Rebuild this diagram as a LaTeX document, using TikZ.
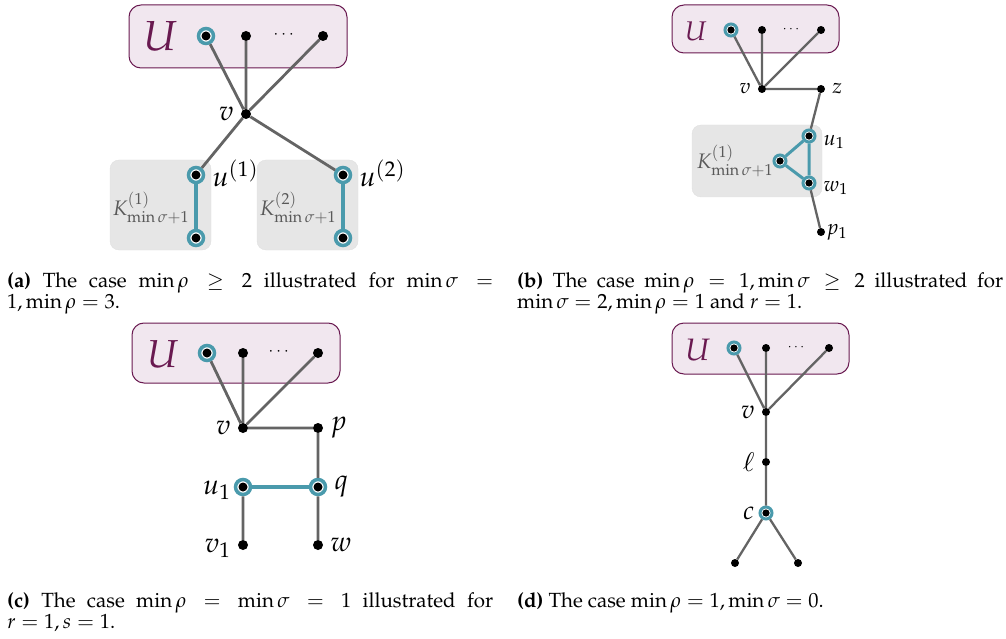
\documentclass[tikz,border=0pt]{standalone}
\usepackage[T1]{fontenc}
\usepackage{amsmath}
\usepackage{mathpazo}
\usepackage{xcolor}
\usepackage{tikz}
\usetikzlibrary{positioning}

\definecolor{ringteal}{RGB}{74,154,172}
\definecolor{setpurple}{RGB}{105,25,80}
\definecolor{setfill}{RGB}{241,231,239}
\definecolor{cliquegray}{RGB}{230,230,230}
\definecolor{edgegray}{RGB}{100,100,100}

\tikzset{
  vdot/.style={circle, fill=black, inner sep=0pt, minimum size=10pt},
  ring/.style={circle, draw=ringteal, line width=3.5pt, fill=white, inner sep=0pt, minimum size=15pt,
    path picture={\fill[black] (path picture bounding box.center) circle (4.5pt);}},
  svdot/.style={circle, fill=black, inner sep=0pt, minimum size=8pt},
  sring/.style={circle, draw=ringteal, line width=3pt, fill=white, inner sep=0pt, minimum size=12pt,
    path picture={\fill[black] (path picture bounding box.center) circle (3.6pt);}},
  gedge/.style={draw=edgegray, line width=2.8pt},
  tedge/.style={draw=ringteal, line width=3.8pt},
  sgedge/.style={draw=edgegray, line width=2.3pt},
  stedge/.style={draw=ringteal, line width=3pt},
  setbox/.style={draw=setpurple, fill=setfill, line width=1pt, rounded corners=12pt},
  cliquebox/.style={fill=cliquegray, draw=black!12, rounded corners=9pt},
  setname/.style={text=setpurple, inner sep=0pt},
  lbl/.style={font=\fontsize{28}{28}\selectfont, inner sep=1pt},
  slbl/.style={font=\fontsize{21}{21}\selectfont, inner sep=1pt},
  klbl/.style={text=black!65, font=\fontsize{21}{21}\selectfont, inner sep=0pt},
  capt/.style={text width=486pt, align=justify, inner sep=0pt, anchor=base west,
    font=\fontsize{20.5}{21}\selectfont}
}

\begin{document}
\begin{tikzpicture}[x=1pt, y=-1pt, label distance=6pt]
\useasboundingbox (0,0) rectangle (1006,639);

% (a) min rho >= 2
\draw[setbox] (129,5) rectangle (347,68);
\node[setname, font=\fontsize{42}{42}\selectfont] (Ua) at (161,36) {$U$};
\node[ring] (ua1) at (206,36) {};
\node[vdot] (ua2) at (246,36) {};
\node[font=\fontsize{16}{16}\selectfont] (uadots) at (285,35) {$\cdots$};
\node[vdot] (ua3) at (323,36) {};
\node[vdot, label={[lbl]left:$v$}] (va) at (246,114) {};
\draw[cliquebox] (110,160) rectangle (211,250);
\draw[cliquebox] (257,160) rectangle (358,250);
\node[ring, label={[lbl, yshift=2pt]right:$u^{(1)}$}] (ka1) at (196,175) {};
\node[ring] (kb1) at (196,238) {};
\node[ring, label={[lbl, yshift=2pt]right:$u^{(2)}$}] (ka2) at (343,175) {};
\node[ring] (kb2) at (343,238) {};
\node[klbl] (kname1) at (151,208) {$K^{(1)}_{\min\sigma+1}$};
\node[klbl] (kname2) at (298,208) {$K^{(2)}_{\min\sigma+1}$};
\draw[gedge] (va) -- (ua1) (va) -- (ua2) (va) -- (ua3) (va) -- (ka1) (va) -- (ka2);
\draw[tedge] (ka1) -- (kb1) (ka2) -- (kb2);
\node[capt] (capa) at (7,287)
  {\textbf{(a)} The case $\min\rho \geq 2$ illustrated for $\min\sigma = 1, \min\rho = 3$.};

% (b) min rho = 1, min sigma >= 2
\draw[setbox] (672,5) rectangle (839,53);
\node[setname, font=\fontsize{27}{27}\selectfont] (Ub) at (696,31) {$U$};
\node[sring] (ub1) at (731,30) {};
\node[svdot] (ub2) at (762,30) {};
\node[font=\fontsize{13}{13}\selectfont] (ubdots) at (792,29) {$\cdots$};
\node[svdot] (ub3) at (821,30) {};
\node[svdot, label={[slbl]left:$v$}] (vb) at (762,89) {};
\node[svdot, label={[slbl]right:$z$}] (zb) at (821,89) {};
\draw[cliquebox] (692,125) rectangle (822,197);
\node[sring, label={[slbl, yshift=-6pt]right:$u_1$}] (u1b) at (809,136) {};
\node[sring] (xb) at (780,161) {};
\node[sring, label={[slbl, yshift=-5pt]right:$w_1$}] (w1b) at (809,183) {};
\node[svdot, label={[slbl, label distance=0pt]right:$p_1$}] (p1b) at (821,232) {};
\node[klbl] (kname3) at (735,161) {$K^{(1)}_{\min\sigma+1}$};
\draw[sgedge] (vb) -- (ub1) (vb) -- (ub2) (vb) -- (ub3) (vb) -- (zb) (zb) -- (u1b) (w1b) -- (p1b);
\draw[stedge] (u1b) -- (w1b) -- (xb) -- (u1b);
\node[capt] (capb) at (517,287)
  {\textbf{(b)} The case $\min\rho = 1, \min\sigma \geq 2$ illustrated for $\min\sigma = 2, \min\rho = 1$ and $r = 1$.};

% (c) min rho = min sigma = 1
\draw[setbox] (132,323) rectangle (340,383);
\node[setname, font=\fontsize{39}{39}\selectfont] (Uc) at (163,354) {$U$};
\node[ring] (uc1) at (207,353) {};
\node[vdot] (uc2) at (243,353) {};
\node[font=\fontsize{16}{16}\selectfont] (ucdots) at (280,352) {$\cdots$};
\node[vdot] (uc3) at (318,353) {};
\node[vdot, label={[lbl]left:$v$}] (vc) at (243,428) {};
\node[vdot, label={[lbl]right:$p$}] (pc) at (318,428) {};
\node[ring, label={[lbl, yshift=-3pt, label distance=2pt]left:$u_1$}] (u1c) at (243,487) {};
\node[ring, label={[lbl]right:$q$}] (qc) at (318,487) {};
\node[vdot, label={[lbl, yshift=-3pt]left:$v_1$}] (v1c) at (243,545) {};
\node[vdot, label={[lbl]right:$w$}] (wc) at (318,545) {};
\draw[gedge] (vc) -- (uc1) (vc) -- (uc2) (vc) -- (uc3) (vc) -- (pc) (pc) -- (qc) (qc) -- (wc) (u1c) -- (v1c);
\draw[tedge] (u1c) -- (qc);
\node[capt] (capc) at (7,607)
  {\textbf{(c)} The case $\min\rho = \min\sigma = 1$ illustrated for \mbox{$r = 1, s = 1$}.};

% (d) min rho = 1, min sigma = 0
\draw[setbox] (672,323) rectangle (849,374);
\node[setname, font=\fontsize{31}{31}\selectfont] (Ud) at (698,350) {$U$};
\node[sring] (ud1) at (734,348) {};
\node[svdot] (ud2) at (766,348) {};
\node[font=\fontsize{13}{13}\selectfont] (uddots) at (797,347) {$\cdots$};
\node[svdot] (ud3) at (829,348) {};
\node[svdot, label={[lbl, font=\fontsize{26}{26}\selectfont]left:$v$}] (vd) at (766,412) {};
\node[svdot, label={[lbl, font=\fontsize{26}{26}\selectfont]left:$\ell$}] (ld) at (766,462) {};
\node[sring, label={[lbl, font=\fontsize{26}{26}\selectfont, label distance=3pt]left:$c$}] (cd) at (766,513) {};
\node[svdot] (leafd1) at (735,563) {};
\node[svdot] (leafd2) at (798,563) {};
\draw[sgedge] (vd) -- (ud1) (vd) -- (ud2) (vd) -- (ud3) (vd) -- (ld) (ld) -- (cd) (cd) -- (leafd1) (cd) -- (leafd2);
\node[capt] (capd) at (517,607)
  {\textbf{(d)} The case $\min\rho = 1, \min\sigma = 0$.};

\end{tikzpicture}
\end{document}
